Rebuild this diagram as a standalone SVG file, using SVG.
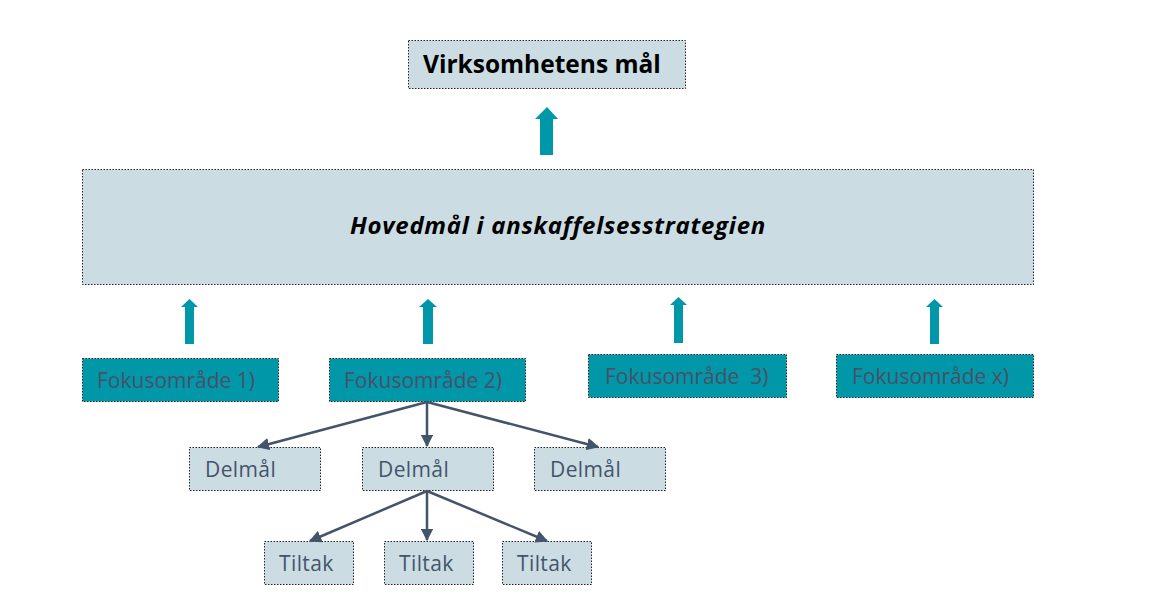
<svg xmlns="http://www.w3.org/2000/svg" width="1150" height="616" viewBox="0 0 1150 616">
<style>
.lt{fill:#cbdce3;stroke:#222;stroke-width:1;stroke-dasharray:1.5 1.5}
.tl{fill:#0097a8;stroke:#222;stroke-width:1;stroke-dasharray:1.5 1.5}
.ua{fill:#0097a8}
.t{font-family:"Open Sans",Lato,sans-serif}
.ft{font-size:21px;fill:#4b4f68}
.dt{font-size:21px;fill:#44546a;letter-spacing:0.4px}
.con{stroke:#44546a;stroke-width:2.5;fill:none;marker-end:url(#ah)}
</style>
<defs>
<marker id="ah" viewBox="0 0 10 10" refX="9" refY="5" markerWidth="5" markerHeight="5" markerUnits="strokeWidth" orient="auto">
<path d="M0,0 L10,5 L0,10 z" fill="#44546a"/>
</marker>
</defs>
<rect width="1150" height="616" fill="#fff"/>
<g id="top">
<rect class="lt" x="408.5" y="40.5" width="277" height="48"/>
<text class="t" x="423" y="73" font-size="24.5" font-weight="bold" fill="#000">Virksomhetens mål</text>
</g>
<g id="main">
<rect class="lt" x="82.5" y="169.5" width="951" height="115"/>
<text class="t" x="558" y="234" font-size="24" font-weight="bold" font-style="italic" fill="#000" text-anchor="middle" letter-spacing="0.7">Hovedmål i anskaffelsesstrategien</text>
</g>
<g id="fokus1">
<rect class="tl" x="82.5" y="358.5" width="196" height="43"/>
<text class="t ft" x="97" y="388">Fokusområde 1)</text>
</g>
<g id="fokus2">
<rect class="tl" x="329.5" y="358.5" width="196" height="43"/>
<text class="t ft" x="344" y="388">Fokusområde 2)</text>
</g>
<g id="fokus3">
<rect class="tl" x="588.5" y="354.5" width="198" height="43"/>
<text class="t ft" x="605" y="384" xml:space="preserve">Fokusområde  3)</text>
</g>
<g id="fokusx">
<rect class="tl" x="836.5" y="354.5" width="197" height="43"/>
<text class="t ft" x="852" y="384">Fokusområde x)</text>
</g>
<g id="delmal1">
<rect class="lt" x="189.5" y="447.5" width="131" height="43"/>
<text class="t dt" x="205" y="477">Delmål</text>
</g>
<g id="delmal2">
<rect class="lt" x="362.5" y="447.5" width="131" height="43"/>
<text class="t dt" x="378" y="477">Delmål</text>
</g>
<g id="delmal3">
<rect class="lt" x="534.5" y="447.5" width="131" height="43"/>
<text class="t dt" x="550" y="477">Delmål</text>
</g>
<g id="tiltak1">
<rect class="lt" x="264.5" y="541.5" width="89" height="43"/>
<text class="t dt" x="279" y="571">Tiltak</text>
</g>
<g id="tiltak2">
<rect class="lt" x="384.5" y="541.5" width="89" height="43"/>
<text class="t dt" x="399" y="571">Tiltak</text>
</g>
<g id="tiltak3">
<rect class="lt" x="502.5" y="541.5" width="89" height="43"/>
<text class="t dt" x="517" y="571">Tiltak</text>
</g>
<g id="connectors">
<path class="ua" d="M547,107 L558,119 L553,119 L553,155 L540,155 L540,119 L535,119 z"/>
<path class="ua" d="M189.5,299 L198,307 L194,307 L194,344 L185,344 L185,307 L181,307 z"/>
<path class="ua" d="M428,299 L437,307 L433,307 L433,344 L423,344 L423,307 L419,307 z"/>
<path class="ua" d="M678.5,297 L687,305 L683,305 L683,343 L674,343 L674,305 L670,305 z"/>
<path class="ua" d="M934.5,299 L943,307 L939,307 L939,344 L930,344 L930,307 L926,307 z"/>
<line class="con" x1="427" y1="402" x2="258" y2="447"/>
<line class="con" x1="427" y1="402" x2="427" y2="446"/>
<line class="con" x1="427" y1="402" x2="598" y2="447"/>
<line class="con" x1="427" y1="491" x2="310" y2="541"/>
<line class="con" x1="427" y1="491" x2="427" y2="540"/>
<line class="con" x1="427" y1="491" x2="547" y2="541"/>
</g>
</svg>
